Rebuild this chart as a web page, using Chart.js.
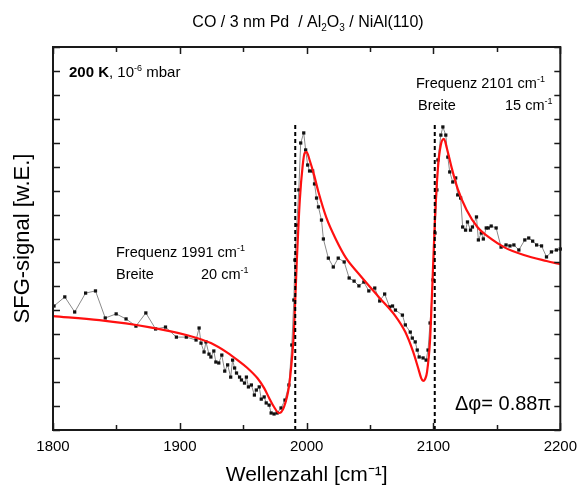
<!DOCTYPE html>
<html lang="de">
<head>
<meta charset="UTF-8">
<title>SFG CO / Pd / Al2O3 / NiAl(110)</title>
<script src="https://cdn.jsdelivr.net/npm/chart.js"></script>
<style>
    html, body {
        margin: 0;
        padding: 0;
        background: #fff;
    }
    .wrap {
        width: 585px;
        height: 488px;
    }
</style>
</head>
<body>
<div class="wrap"><canvas id="sfgChart" width="585" height="488"></canvas></div>
<script>
// measured SFG spectrum (black squares), wavenumber in cm-1, signal in w.E.
const measX = [1800.8, 1809.3, 1817.1, 1825.7, 1833.5, 1841.2, 1849.8, 1857.6, 1865.4, 1873.2,
    1880.9, 1888.7, 1897.3, 1905.1, 1912.8, 1915.2, 1916.7, 1919.1, 1920.6, 1923.0,
    1924.5, 1926.8, 1928.4, 1930.7, 1933.1, 1935.4, 1937.7, 1940.1, 1941.6, 1943.2,
    1944.7, 1947.1, 1948.6, 1951.0, 1952.5, 1954.1, 1956.4, 1958.8, 1960.3, 1962.6,
    1964.2, 1966.5, 1968.1, 1970.4, 1972.0, 1974.3, 1976.7, 1979.8, 1982.9, 1986.0,
    1988.3, 1989.9, 1990.7, 1992.2, 1993.8, 1995.3, 1997.7, 1999.2, 2000.8, 2002.3,
    2004.7, 2006.2, 2007.8, 2009.3, 2011.7, 2013.2, 2017.1, 2021.0, 2024.9, 2029.6,
    2033.5, 2037.4, 2041.2, 2045.1, 2049.0, 2053.7, 2057.6, 2061.5, 2065.4, 2067.7,
    2070.0, 2075.5, 2077.8, 2081.7, 2083.3, 2085.6, 2087.2, 2088.7, 2091.8, 2094.2,
    2095.7, 2097.3, 2099.6, 2101.2, 2102.7, 2103.5, 2105.8, 2107.4, 2109.7, 2111.3,
    2112.8, 2115.2, 2117.5, 2119.1, 2121.4, 2123.0, 2125.3, 2126.8, 2129.2, 2130.7,
    2133.9, 2135.4, 2137.7, 2139.3, 2141.6, 2143.2, 2145.5, 2149.4, 2153.3, 2157.2,
    2160.3, 2163.4, 2167.3, 2172.0, 2175.1, 2178.2, 2181.3, 2185.2, 2189.1, 2193.0,
    2196.9, 2200.0];
const measY = [5.18, 5.56, 4.93, 5.72, 5.81, 4.68, 4.85, 4.64, 4.34, 4.89,
    4.22, 4.30, 3.88, 3.88, 3.76, 4.26, 3.63, 3.26, 3.68, 3.17,
    3.05, 3.30, 2.84, 2.80, 3.13, 2.46, 2.72, 2.21, 2.92, 2.59,
    2.38, 2.21, 2.09, 1.96, 2.21, 1.80, 1.88, 1.46, 1.67, 1.80,
    1.29, 1.38, 1.13, 1.04, 0.71, 0.67, 0.71, 0.92, 1.25, 1.88,
    3.55, 5.43, 7.10, 8.56, 10.03, 11.99, 12.41, 11.70, 11.07, 10.82,
    10.82, 10.28, 9.69, 9.32, 8.77, 7.98, 7.18, 6.81, 7.18, 7.02,
    6.35, 6.22, 6.02, 6.18, 5.81, 5.93, 5.39, 5.68, 5.14, 5.18,
    5.01, 4.80, 4.39, 4.09, 3.84, 3.68, 3.34, 3.05, 3.01, 2.92,
    3.34, 4.47, 6.27, 8.23, 10.03, 11.28, 12.32, 12.66, 12.32, 11.40,
    10.78, 10.36, 10.53, 9.82, 9.69, 8.48, 8.35, 8.69, 8.35, 8.48,
    8.90, 7.94, 8.23, 7.98, 8.44, 8.44, 8.52, 8.44, 7.64, 7.73,
    7.69, 7.73, 7.52, 7.94, 8.02, 7.89, 7.73, 7.69, 7.23, 7.44,
    7.52, 7.56];

// fit (red curve)
const fitX = [1800.0, 1836.6, 1875.5, 1906.6, 1924.5, 1937.7, 1945.5, 1953.3, 1961.1, 1966.5,
    1970.4, 1974.3, 1978.2, 1982.1, 1986.0, 1988.3, 1989.9, 1992.2, 1994.6, 1996.9,
    1998.4, 2000.0, 2002.3, 2005.4, 2009.3, 2015.6, 2023.3, 2031.1, 2041.2, 2056.8,
    2070.0, 2077.8, 2084.0, 2087.9, 2090.3, 2091.8, 2093.4, 2094.9, 2097.3, 2098.8,
    2101.2, 2103.5, 2105.8, 2108.2, 2110.5, 2114.4, 2119.1, 2126.1, 2134.6, 2145.5,
    2155.6, 2171.2, 2189.1, 2200.0];
const fitY = [4.76, 4.59, 4.30, 3.95, 3.63, 3.22, 2.92, 2.59, 2.17, 1.75,
    1.34, 0.96, 0.71, 0.96, 1.80, 2.92, 4.05, 7.02, 9.61, 11.07,
    11.57, 11.61, 11.28, 10.74, 9.94, 8.86, 7.94, 7.18, 6.52, 5.56,
    4.76, 4.09, 3.26, 2.59, 2.17, 2.05, 2.13, 2.42, 3.76, 5.64,
    8.86, 10.94, 11.91, 12.16, 11.78, 10.94, 10.07, 9.19, 8.48, 7.98,
    7.64, 7.31, 7.06, 6.93];

// resonance positions (dashed lines) and how high they reach
const resonances = [1991, 2101];
const resonanceTop = [12.78, 12.87];

const xTicks = [1800, 1900, 2000, 2100, 2200];
const xMinorStep = 50;
const yTickStep = 1;

const FONT = '"Liberation Sans", Arial, Helvetica, sans-serif';

function toPoints(xs, ys) {
    return xs.map((x, i) => ({ x: x, y: ys[i] }));
}

// draws text made of normal / bold / sup / sub pieces
function richText(ctx, x, y, parts, size, align) {
    const fontFor = (k) => (k === 'b' ? 'bold ' : '') +
        ((k === 'sup' || k === 'sub') ? Math.round(size * 0.62) : size) + 'px ' + FONT;
    let w = 0;
    parts.forEach(p => { ctx.font = fontFor(p[1]); w += ctx.measureText(p[0]).width; });
    let cx = align === 'center' ? x - w / 2 : x;
    parts.forEach(p => {
        ctx.font = fontFor(p[1]);
        const dy = p[1] === 'sup' ? -size * 0.42 : (p[1] === 'sub' ? size * 0.28 : 0);
        ctx.fillText(p[0], cx, y + dy);
        cx += ctx.measureText(p[0]).width;
    });
}

const framePlugin = {
    id: 'frameAndNotes',
    afterDraw(chart) {
        const ctx = chart.ctx;
        const a = chart.chartArea;
        const xs = chart.scales.x;
        const ys = chart.scales.y;
        ctx.save();
        ctx.strokeStyle = '#1a1a1a';
        ctx.lineWidth = 2;
        ctx.strokeRect(a.left, a.top, a.right - a.left, a.bottom - a.top);

        // inward ticks
        ctx.lineWidth = 1.5;
        ctx.beginPath();
        for (let v = xs.min; v <= xs.max; v += xMinorStep) {
            const px = Math.round(xs.getPixelForValue(v)) + 0.5;
            const len = (v % 100 === 0) ? 7 : 5;
            ctx.moveTo(px, a.bottom); ctx.lineTo(px, a.bottom - len);
            ctx.moveTo(px, a.top); ctx.lineTo(px, a.top + len);
        }
        for (let v = ys.min; v <= ys.max; v += yTickStep) {
            const py = Math.round(ys.getPixelForValue(v)) + 0.5;
            ctx.moveTo(a.left, py); ctx.lineTo(a.left + 7, py);
            ctx.moveTo(a.right, py); ctx.lineTo(a.right - 6, py);
        }
        ctx.stroke();

        // texts
        ctx.fillStyle = '#000';
        ctx.textBaseline = 'alphabetic';
        richText(ctx, 308, 27, [['CO / 3 nm Pd  / Al', ''], ['2', 'sub'], ['O', ''], ['3', 'sub'], [' / NiAl(110)', '']], 16, 'center');
        richText(ctx, 69, 77, [['200 K', 'b'], [', 10', ''], ['-6', 'sup'], [' mbar', '']], 15, 'left');
        richText(ctx, 116, 257, [['Frequenz 1991 cm', ''], ['-1', 'sup']], 14.5, 'left');
        richText(ctx, 116, 279, [['Breite', '']], 14.5, 'left');
        richText(ctx, 201, 279, [['20 cm', ''], ['-1', 'sup']], 14.5, 'left');
        richText(ctx, 416, 88, [['Frequenz 2101 cm', ''], ['-1', 'sup']], 14.5, 'left');
        richText(ctx, 418, 110, [['Breite', '']], 14.5, 'left');
        richText(ctx, 505, 110, [['15 cm', ''], ['-1', 'sup']], 14.5, 'left');
        richText(ctx, 455, 410, [['\u0394\u03C6= 0.88\u03C0', '']], 20, 'left');
        ctx.restore();
    }
};

const dashedSets = resonances.map((r, i) => ({
    data: [{ x: r, y: 0 }, { x: r, y: resonanceTop[i] }],
    borderColor: '#000',
    borderWidth: 2,
    borderDash: [4, 3],
    pointRadius: 0,
    fill: false
}));

new Chart(document.getElementById('sfgChart'), {
    type: 'line',
    data: {
        datasets: [
            ...dashedSets,
            {
                label: 'Fit',
                data: toPoints(fitX, fitY),
                borderColor: '#ff1010',
                borderWidth: 2.2,
                pointRadius: 0,
                cubicInterpolationMode: 'monotone',
                fill: false
            },
            {
                label: 'SFG',
                data: toPoints(measX, measY),
                borderColor: '#8a8a8a',
                borderWidth: 1,
                pointStyle: 'rect',
                pointRadius: 2.3,
                pointBackgroundColor: '#111',
                pointBorderWidth: 0,
                tension: 0,
                fill: false
            }
        ]
    },
    options: {
        responsive: false,
        animation: false,
        clip: false,
        layout: { padding: { top: 47, right: 18, left: 0, bottom: 0 } },
        plugins: {
            legend: { display: false },
            tooltip: { enabled: false }
        },
        scales: {
            x: {
                type: 'linear',
                min: 1800,
                max: 2200,
                afterBuildTicks: (s) => { s.ticks = xTicks.map(v => ({ value: v })); },
                grid: { display: false, drawTicks: false },
                border: { display: false },
                ticks: {
                    color: '#000',
                    padding: 8,
                    maxRotation: 0,
                    font: { size: 15, family: FONT },
                    callback: (v) => String(v)
                },
                title: {
                    display: true,
                    text: 'Wellenzahl [cm\u207B\u00B9]',
                    color: '#000',
                    font: { size: 21, family: FONT },
                    padding: { top: 0, bottom: 0 }
                },
                afterFit: (s) => { s.height = 58; }
            },
            y: {
                type: 'linear',
                min: 0,
                max: 16,
                ticks: { display: false, stepSize: yTickStep },
                grid: { display: false, drawTicks: false },
                border: { display: false },
                title: {
                    display: true,
                    text: 'SFG-signal [w.E.]',
                    color: '#000',
                    font: { size: 22, family: FONT },
                    padding: { top: 10, bottom: 0 }
                },
                afterFit: (s) => { s.width = 53; }
            }
        }
    },
    plugins: [framePlugin]
});
</script>
</body>
</html>
